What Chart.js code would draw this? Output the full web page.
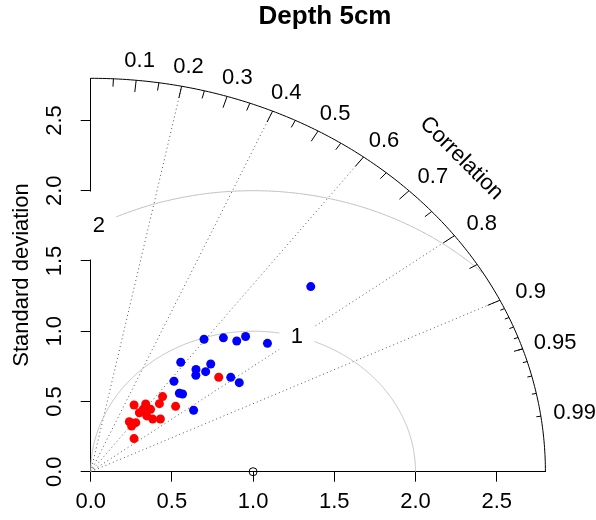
<!DOCTYPE html>
<html lang="en">
<head>
<meta charset="UTF-8">
<title>Depth 5cm</title>
<script src="https://cdn.jsdelivr.net/npm/chart.js"></script>
<style>
  body { margin: 0; background: #fff; }
  canvas { display: block; }
</style>
</head>
<body>
<canvas id="taylor" width="596" height="520"></canvas>
<script>
// Taylor diagram settings
const maxSd = 2.8;
const refSd = 1;
const corrLines = [0.2, 0.4, 0.6, 0.8, 0.9];
const corrBigTicks = [0.1, 0.2, 0.3, 0.4, 0.5, 0.6, 0.7, 0.8, 0.9];
const corrMedTicks = [0.05, 0.15, 0.25, 0.35, 0.45, 0.55, 0.65, 0.75, 0.85, 0.95];
const corrSmallTicks = [0.91, 0.92, 0.93, 0.94, 0.95, 0.96, 0.97, 0.98, 0.99];
const corrLabels = [0.1, 0.2, 0.3, 0.4, 0.5, 0.6, 0.7, 0.8, 0.9, 0.95, 0.99];
const rmsCircles = [1, 2];

// models (standard deviation, correlation)
const blueSd  = [1.890, 1.173, 1.255, 1.294, 1.355, 1.421, 0.956, 1.065, 0.975, 0.944, 1.004, 1.093, 1.113, 0.823, 0.781, 0.791, 0.770];
const blueCor = [0.717, 0.595, 0.651, 0.695, 0.704, 0.766, 0.580, 0.694, 0.665, 0.686, 0.705, 0.789, 0.822, 0.623, 0.699, 0.715, 0.823];
const redSd   = [1.036, 0.694, 0.643, 0.700, 0.545, 0.589, 0.550, 0.577, 0.526, 0.535, 0.570, 0.428, 0.446, 0.411, 0.356, 0.516];
const redCor  = [0.761, 0.638, 0.658, 0.747, 0.490, 0.575, 0.589, 0.639, 0.656, 0.714, 0.753, 0.556, 0.622, 0.613, 0.750, 0.581];

const xy = (sd, r) => ({ x: sd * r, y: sd * Math.sqrt(1 - r * r) });

Chart.defaults.font.family = '"Liberation Sans", Arial, sans-serif';
Chart.defaults.color = '#000';

const taylorGrid = {
  id: 'taylorGrid',
  beforeDatasetsDraw(chart) {
    const { ctx, scales: { x, y } } = chart;
    const P = (a, b) => [x.getPixelForValue(a), y.getPixelForValue(b)];
    const path = pts => {
      ctx.beginPath();
      pts.forEach((p, i) => i ? ctx.lineTo(...P(p[0], p[1])) : ctx.moveTo(...P(p[0], p[1])));
      ctx.stroke();
    };
    ctx.save();
    ctx.lineWidth = 1;

    // dotted correlation rays
    ctx.strokeStyle = '#555';
    ctx.setLineDash([1, 3]);
    corrLines.forEach(r => { const e = xy(maxSd, r); path([[0, 0], [e.x, e.y]]); });
    ctx.setLineDash([]);

    // centred RMS circles round the reference point
    ctx.strokeStyle = '#bebebe';
    rmsCircles.forEach(g => {
      const pts = [];
      for (let i = 0; i <= 720; i++) {
        const t = i * Math.PI / 720;
        const cx = refSd + g * Math.cos(t), cy = g * Math.sin(t);
        if (cx >= 0 && cx * cx + cy * cy <= maxSd * maxSd) pts.push([cx, cy]);
      }
      path(pts);
    });

    // boxed labels of the circles
    ctx.font = '22px "Liberation Sans", Arial, sans-serif';
    ctx.textAlign = 'center';
    ctx.textBaseline = 'middle';
    [[1, 1.27, 0.96], [2, 0.05, 1.752]].forEach(([g, a, b]) => {
      const [px, py] = P(a, b);
      ctx.fillStyle = '#fff';
      ctx.fillRect(px - 17.5, py - 34, 35, 68);
      ctx.fillStyle = '#000';
      ctx.fillText(String(g), px, py);
    });

    // outer correlation arc
    ctx.strokeStyle = '#000';
    const arc = [];
    for (let i = 0; i <= 180; i++) {
      const t = i * Math.PI / 360;
      arc.push([maxSd * Math.cos(t), maxSd * Math.sin(t)]);
    }
    path(arc);
    const tick = (list, len) => list.forEach(c => {
      const s = Math.sqrt(1 - c * c);
      path([[maxSd * c, maxSd * s], [maxSd * (1 - len) * c, maxSd * (1 - len) * s]]);
    });
    tick(corrBigTicks, 0.03);
    tick(corrMedTicks, 0.02);
    tick(corrSmallTicks, 0.01);

    corrLabels.forEach(c => {
      const [px, py] = P(maxSd * 1.075 * c, maxSd * 1.05 * Math.sqrt(1 - c * c));
      ctx.fillText(String(c), px, py);
    });

    // "Correlation"
    const [cx, cy] = P(2.283, 2.231);
    ctx.save();
    ctx.translate(cx, cy);
    ctx.rotate(Math.PI / 4);
    ctx.fillText('Correlation', 0, 0);
    ctx.restore();

    // y tick labels, parallel to the axis
    y.ticks.forEach(t => {
      ctx.save();
      ctx.translate(55, y.getPixelForValue(t.value));
      ctx.rotate(-Math.PI / 2);
      ctx.fillText(t.value.toFixed(1), 0, 0);
      ctx.restore();
    });

    ctx.save();
    ctx.translate(22, 275);
    ctx.rotate(-Math.PI / 2);
    ctx.fillText('Standard deviation', 0, 0);
    ctx.restore();

    ctx.font = 'bold 26px "Liberation Sans", Arial, sans-serif';
    ctx.fillText('Depth 5cm', 325, 17);
    ctx.restore();
  }
};

new Chart(document.getElementById('taylor'), {
  type: 'scatter',
  data: {
    datasets: [
      {
        label: 'Reference',
        data: [{ x: refSd, y: 0 }],
        pointRadius: 4,
        pointBackgroundColor: 'rgba(0,0,0,0)',
        pointBorderColor: '#000',
        pointBorderWidth: 1,
        clip: false
      },
      {
        label: 'Blue models',
        data: blueSd.map((s, i) => xy(s, blueCor[i])),
        pointRadius: 4.5,
        pointBackgroundColor: '#0000ff',
        pointBorderWidth: 0,
        clip: false
      },
      {
        label: 'Red models',
        data: redSd.map((s, i) => xy(s, redCor[i])),
        pointRadius: 4.5,
        pointBackgroundColor: '#ff0000',
        pointBorderWidth: 0,
        clip: false
      }
    ]
  },
  options: {
    responsive: false,
    animation: false,
    layout: { padding: { top: 78.3, right: 50.6, left: 0, bottom: 0 } },
    plugins: { legend: { display: false }, tooltip: { enabled: false } },
    scales: {
      x: {
        type: 'linear',
        min: 0,
        max: maxSd,
        afterFit(s) { s.height = 48.3; },
        grid: { drawOnChartArea: false, color: '#000', tickLength: 10 },
        border: { color: '#000' },
        ticks: {
          stepSize: 0.5,
          includeBounds: false,
          maxRotation: 0,
          padding: 7,
          font: { size: 22 },
          callback: v => v.toFixed(1)
        }
      },
      y: {
        type: 'linear',
        min: 0,
        max: maxSd,
        afterFit(s) { s.width = 90.7; },
        grid: { drawOnChartArea: false, color: '#000', tickLength: 10 },
        border: { color: '#000' },
        ticks: {
          stepSize: 0.5,
          includeBounds: false,
          callback: () => ''
        }
      }
    }
  },
  plugins: [taylorGrid]
});
</script>
</body>
</html>
